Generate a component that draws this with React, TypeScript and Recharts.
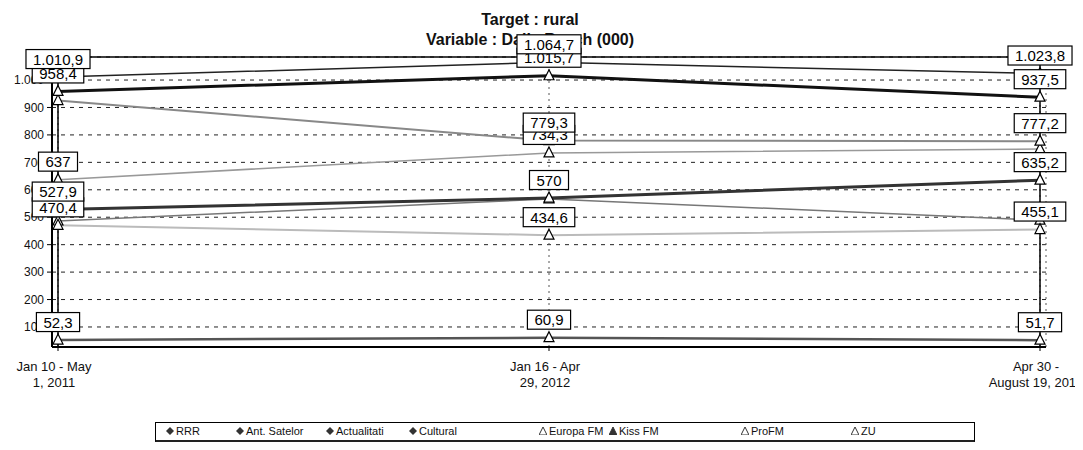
import React from 'react';
import { LineChart, Line, XAxis, YAxis, CartesianGrid, LabelList, ReferenceArea } from 'recharts';

const categories = ['Jan 10 - May\n1, 2011', 'Jan 16 - Apr\n29, 2012', 'Apr 30 -\nAugust 19, 2012'];
const yTicks = [100, 200, 300, 400, 500, 600, 700, 800, 900, 1000];

const rrr = [486.2, 566.8, 489.5];
const antSatelor = [958.4, 1015.7, 937.5];
const actualitati = [1010.9, 1064.7, 1023.8];
const cultural = [52.3, 60.9, 51.7];
const europaFm = [637.0, 734.3, 748.6];
const kissFm = [925.3, 779.3, 777.2];
const proFm = [527.9, 570.0, 635.2];
const zu = [470.4, 434.6, 455.1];

const legendNames = ['RRR', 'Ant. Satelor', 'Actualitati', 'Cultural', 'Europa FM', 'Kiss FM', 'ProFM', 'ZU'];

const chartData = categories.map((c, i) => ({
  period: c,
  rrr: rrr[i],
  antSatelor: antSatelor[i],
  actualitati: actualitati[i],
  cultural: cultural[i],
  europaFm: europaFm[i],
  kissFm: kissFm[i],
  proFm: proFm[i],
  zu: zu[i],
}));

const FONT = '"Liberation Sans", Arial, sans-serif';

// 1.010,9 style numbers
const fmt = (v: number) => {
  const [intPart, dec] = v.toFixed(1).split('.');
  const s = intPart.replace(/\B(?=(\d{3})+(?!\d))/g, '.');
  return dec === '0' ? s : s + ',' + dec;
};

const textWidth = (t: string, size: number) =>
  t.split('').reduce((w, ch) => w + (ch === '.' || ch === ',' ? 0.278 : 0.556) * size, 0);

const makeBoxLabel = (shown: number[]) => (props: any) => {
  const x = props.x ?? props.viewBox?.x;
  const y = props.y ?? props.viewBox?.y;
  if (x == null || y == null || !shown.includes(props.index)) return null;
  const t = fmt(Number(props.value));
  const w = textWidth(t, 15) + 14;
  const h = 19;
  const cy = y - 18;
  return (
    <g>
      <rect x={x - w / 2} y={cy - h / 2} width={w} height={h} fill="#fff" stroke="#000" strokeWidth={1.2} />
      <text x={x} y={cy + 5.5} textAnchor="middle" fontSize={15} fontFamily={FONT} fill="#000">{t}</text>
    </g>
  );
};

const TriDot = (props: any) => {
  const { cx, cy } = props;
  if (cx == null || cy == null) return <g />;
  return <path d={`M${cx},${cy - 6} L${cx + 5},${cy + 4} L${cx - 5},${cy + 4} Z`} fill="#fff" stroke="#000" strokeWidth={1.2} />;
};

const PeriodTick = (props: any) => {
  const { x, y, payload } = props;
  const lines = String(payload.value).split('\n');
  return (
    <text x={x - 4} y={y + 18} textAnchor="middle" fontSize={13} fontFamily={FONT} fill="#111">
      {lines.map((l, i) => (
        <tspan key={i} x={x - 4} dy={i === 0 ? 0 : 16}>{l}</tspan>
      ))}
    </text>
  );
};

const yFmt = (v: number) => (v >= 1000 ? fmt(v) : String(v));

// drawing order, back to front; `labels` = which points carry a visible value box
const series = [
  { key: 'rrr', color: '#777', width: 1.5, labels: [] as number[] },
  { key: 'zu', color: '#bbb', width: 2, labels: [0, 1, 2] },
  { key: 'europaFm', color: '#999', width: 1.5, labels: [0, 1] },
  { key: 'kissFm', color: '#888', width: 2, labels: [1, 2] },
  { key: 'proFm', color: '#333', width: 3, labels: [0, 1, 2] },
  { key: 'cultural', color: '#555', width: 2.5, labels: [0, 1, 2] },
  { key: 'antSatelor', color: '#111', width: 3, labels: [0, 1, 2] },
  { key: 'actualitati', color: '#222', width: 1.5, labels: [0, 1, 2] },
];

const legendLeft = [10, 80, 170, 253, 383, 453, 585, 695];

const LegendMark = ({ i }: { i: number }) =>
  i < 4 ? (
    <svg width={8} height={8} style={{ marginRight: 2 }}>
      <path d="M4,0 L8,4 L4,8 L0,4 Z" fill="#333" />
    </svg>
  ) : (
    <svg width={8} height={8} style={{ marginRight: 2 }}>
      <path d="M4,0 L8,8 L0,8 Z" fill={i === 5 ? '#333' : '#fff'} stroke="#333" strokeWidth={1} />
    </svg>
  );

export default function App() {
  return (
    <div style={{ position: 'relative', width: 1067, height: 434, fontFamily: FONT }}>
      <div style={{ position: 'absolute', left: 0, width: 1044, top: 2, textAlign: 'center', fontWeight: 'bold', fontSize: 16, lineHeight: '20px', color: '#111' }}>
        Target : rural
        <br />
        Variable : Daily Reach (000)
      </div>
      <div style={{ position: 'absolute', left: 0, top: 0 }}>
        <LineChart width={1067} height={400} data={chartData} margin={{ top: 49, right: 29, bottom: 10, left: 4 }}>
          <CartesianGrid horizontal vertical={false} stroke="#222" strokeDasharray="4 5" />
          <CartesianGrid horizontal={false} vertical stroke="#555" strokeDasharray="2 4" />
          <ReferenceArea y1={27} y2={1084} fill="none" stroke="#000" strokeWidth={1.5} ifOverflow="visible" />
          <XAxis
            dataKey="period"
            height={51}
            padding={{ left: 6, right: 6 }}
            axisLine={{ stroke: '#000', strokeWidth: 2 }}
            tickLine={{ stroke: '#000' }}
            tickSize={4}
            interval={0}
            tick={<PeriodTick />}
          />
          <YAxis
            type="number"
            domain={[27, 1084]}
            ticks={yTicks}
            width={40}
            axisLine={{ stroke: '#000', strokeWidth: 2 }}
            tickLine={{ stroke: '#000' }}
            tickSize={5}
            tickMargin={3}
            tickFormatter={yFmt}
            tick={{ fontSize: 12, fontFamily: FONT, fill: '#111' }}
          />
          {series.map(s => {
            const Box = makeBoxLabel(s.labels);
            return (
              <Line
                key={s.key}
                dataKey={s.key}
                type="linear"
                stroke={s.color}
                strokeWidth={s.width}
                dot={<TriDot />}
                activeDot={false}
                isAnimationActive={false}
              >
                <LabelList dataKey={s.key} content={<Box />} />
              </Line>
            );
          })}
        </LineChart>
      </div>
      <div
        style={{
          position: 'absolute',
          left: 147,
          top: 414,
          width: 818,
          height: 17,
          border: '1px solid #000',
          borderBottom: '3px solid #222',
          background: '#fff',
          fontSize: 11,
          color: '#111',
        }}
      >
        {legendNames.map((n, i) => (
          <div key={n} style={{ position: 'absolute', left: legendLeft[i], top: 2, display: 'flex', alignItems: 'center', whiteSpace: 'nowrap' }}>
            <LegendMark i={i} />
            {n}
          </div>
        ))}
      </div>
    </div>
  );
}
